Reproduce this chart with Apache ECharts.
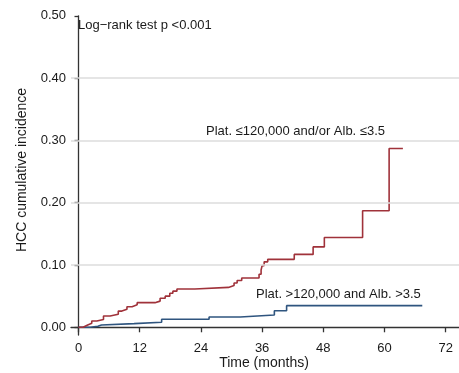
<!DOCTYPE html>
<html>
<head>
<meta charset="utf-8">
<script src="https://cdn.jsdelivr.net/npm/echarts@6/dist/echarts.min.js"></script>
<style>
  html, body { margin: 0; padding: 0; background: #fff; }
  #chart { width: 459px; height: 373px; }
</style>
</head>
<body>
<div id="chart"></div>
<script>
// Cumulative HCC incidence by group (Kaplan–Meier style step curves)
const lowTimes  = [0, 0.9, 1.7, 2.6, 3.6, 4.9, 6.2, 7.8, 8.5, 9.5, 10.5, 11.5, 15.0, 16.0, 17.0, 17.9, 18.5, 19.3, 22.8, 29.4, 30.5, 31.1, 32.0, 35.4, 35.8, 36.0, 36.4, 37.1, 42.3, 46.0, 48.2, 55.7, 60.9, 63.6];
const lowValues = [0, 0.0032, 0.0064, 0.010, 0.0125, 0.018, 0.021, 0.026, 0.029, 0.033, 0.036, 0.0395, 0.042, 0.0465, 0.050, 0.0546, 0.058, 0.0615, 0.064, 0.067, 0.071, 0.075, 0.079, 0.085, 0.092, 0.099, 0.105, 0.109, 0.117, 0.129, 0.144, 0.187, 0.287, 0.287];

const highTimes  = [0, 2.3, 3.8, 4.5, 10.9, 16.3, 25.6, 31.7, 38.4, 40.8, 67.4];
const highValues = [0, 0.0016, 0.0037, 0.0058, 0.008, 0.0128, 0.0165, 0.0197, 0.0266, 0.0347, 0.0347];

const xTicks = [0, 12, 24, 36, 48, 60, 72];
const yTicks = [0, 0.1, 0.2, 0.3, 0.4, 0.5];
const gridValues = [0.1, 0.2, 0.3, 0.4];

const labelLow  = 'Plat. \u2264120,000 and/or Alb. \u22643.5';
const labelHigh = 'Plat. >120,000 and Alb. >3.5';
const testText  = 'Log\u2212rank test p <0.001';
const yTitle = 'HCC cumulative incidence';
const xTitle = 'Time (months)';

const FONT = '"Liberation Sans", Arial, Helvetica, sans-serif';
const zip = (a, b) => a.map((v, i) => [v, b[i]]);

const chart = echarts.init(document.getElementById('chart'), null, { renderer: 'canvas' });

chart.setOption({
  animation: false,
  backgroundColor: '#ffffff',
  grid: { left: 71, top: 15.8, right: 0, bottom: 38, containLabel: false, outerBoundsMode: 'none' },
  xAxis: {
    type: 'value',
    min: -1.47,
    max: 74.6,
    axisLine: { show: true, lineStyle: { color: '#333333', width: 1.3 } },
    axisTick: { show: true, customValues: xTicks, length: 5, lineStyle: { color: '#333333', width: 1.3 } },
    axisLabel: { customValues: xTicks, margin: 7, color: '#1a1a1a', fontSize: 13, fontFamily: FONT,
                 formatter: v => String(Math.round(v)) },
    splitLine: { show: false }
  },
  yAxis: {
    type: 'value',
    min: -0.0124,
    max: 0.5,
    axisLine: { show: true, lineStyle: { color: '#333333', width: 1.3 } },
    axisTick: { show: true, customValues: yTicks, length: 4, lineStyle: { color: '#333333', width: 1.3 } },
    axisLabel: { customValues: yTicks, margin: 5, color: '#1a1a1a', fontSize: 13, fontFamily: FONT,
                 formatter: v => v.toFixed(2) },
    splitLine: { show: false }
  },
  series: [
    {
      name: labelHigh,
      type: 'line',
      step: 'end',
      z: 2,
      showSymbol: false,
      data: zip(highTimes, highValues),
      lineStyle: { color: '#2f557f', width: 1.6 },
      markLine: {
        silent: true,
        symbol: 'none',
        label: { show: false },
        lineStyle: { color: '#dcdcdc', width: 1.5, type: 'solid' },
        data: gridValues.map(v => ({ yAxis: v }))
      }
    },
    {
      name: labelLow,
      type: 'line',
      step: 'end',
      z: 3,
      showSymbol: false,
      data: zip(lowTimes, lowValues),
      lineStyle: { color: '#a0323a', width: 1.6 }
    }
  ],
  graphic: [
    { type: 'text', left: 78, top: 19, style: { text: testText, font: '13px ' + FONT, fill: '#1a1a1a' } },
    { type: 'text', left: 206, top: 125, style: { text: labelLow, font: '13px ' + FONT, fill: '#1a1a1a' } },
    { type: 'text', left: 256, top: 288, style: { text: labelHigh, font: '13px ' + FONT, fill: '#1a1a1a' } },
    { type: 'text', x: 22, y: 170, rotation: Math.PI / 2,
      style: { text: yTitle, font: '14px ' + FONT, fill: '#1a1a1a', align: 'center', verticalAlign: 'middle' } },
    { type: 'text', x: 264, y: 363,
      style: { text: xTitle, font: '14px ' + FONT, fill: '#1a1a1a', align: 'center', verticalAlign: 'middle' } }
  ]
});
</script>
</body>
</html>
